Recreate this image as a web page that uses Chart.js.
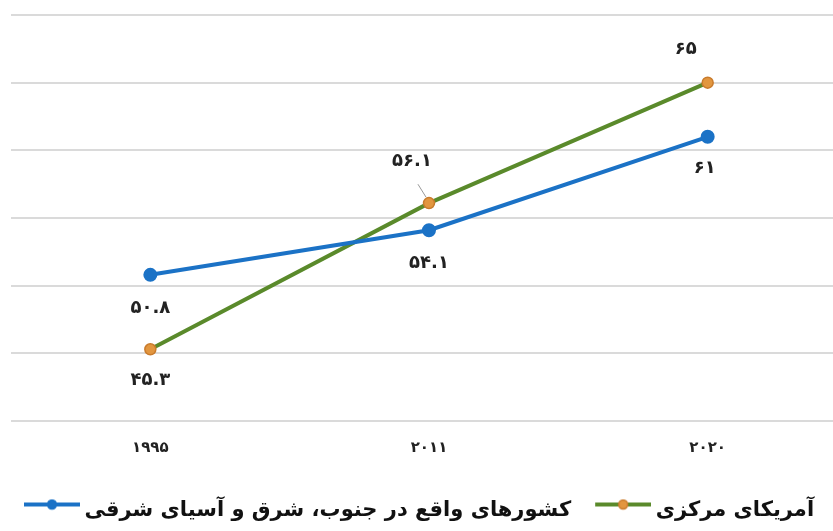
<!DOCTYPE html>
<html lang="fa">
<head>
<meta charset="utf-8">
<script src="https://cdn.jsdelivr.net/npm/chart.js@4"></script>
<style>
  html, body { margin: 0; padding: 0; background: #fff; overflow: hidden; }
  #wrap { width: 856px; height: 531px; }
</style>
</head>
<body>
<div id="wrap"><canvas id="lineas"></canvas></div>
<script>
// datos
var years = ['۱۹۹۵', '۲۰۱۱', '۲۰۲۰'];
var asiaName = 'کشورهای واقع در جنوب، شرق و آسیای شرقی';
var centralName = 'آمریکای مرکزی';
var asiaValues = [50.8, 54.1, 61];
var centralValues = [45.3, 56.1, 65];
var yTicks = [40, 45, 50, 55, 60, 65, 70];

// donde va cada etiqueta respecto al punto
var labelOffsets = [
    [{dx: 0, dy: 33}, {dx: 0, dy: 33}, {dx: -3, dy: 32}],
    [{dx: 0, dy: 31}, {dx: -17, dy: -42, leader: true}, {dx: -22, dy: -33}]
];

function faNum(n) {
    return String(n).replace(/[0-9]/g, function (d) { return '۰۱۲۳۴۵۶۷۸۹'[d]; });
}

// icono de leyenda: linea con circulo, un poco por encima del texto
function legendIcon(line, fill, border) {
    var c = document.createElement('canvas');
    c.width = 78; c.height = 24;
    var g = c.getContext('2d');
    g.strokeStyle = line; g.lineWidth = 4;
    g.beginPath(); g.moveTo(22, 6); g.lineTo(78, 6); g.stroke();
    g.fillStyle = fill; g.strokeStyle = border; g.lineWidth = 1.5;
    g.beginPath(); g.arc(50, 6, 4.5, 0, Math.PI * 2); g.fill(); g.stroke();
    return c;
}

var pointLabels = {
    id: 'pointLabels',
    afterDatasetsDraw: function (chart) {
        var ctx = chart.ctx;
        ctx.save();
        ctx.font = 'bold 18px "DejaVu Sans"';
        ctx.fillStyle = '#222';
        ctx.textAlign = 'center';
        ctx.textBaseline = 'middle';
        chart.data.datasets.forEach(function (ds, i) {
            chart.getDatasetMeta(i).data.forEach(function (pt, j) {
                var o = labelOffsets[i][j];
                if (o.leader) {
                    ctx.strokeStyle = '#999';
                    ctx.lineWidth = 1;
                    ctx.beginPath();
                    ctx.moveTo(pt.x - 3, pt.y - 6);
                    ctx.lineTo(pt.x + o.dx * 0.65, pt.y + o.dy * 0.45);
                    ctx.stroke();
                }
                ctx.fillText(faNum(ds.data[j]), pt.x + o.dx, pt.y + o.dy);
            });
        });
        ctx.restore();
    }
};

var ctx = document.getElementById('lineas');
var grafica = new Chart(ctx, {
    type: 'line',
    data: {
        labels: years,
        datasets: [{
            label: asiaName,
            data: asiaValues,
            borderColor: '#1B72C6',
            backgroundColor: '#1B72C6',
            pointBackgroundColor: '#1B72C6',
            pointBorderColor: '#1B72C6',
            borderWidth: 4,
            pointRadius: 5,
            icon: legendIcon('#1B72C6', '#1B72C6', '#1B72C6')
        }, {
            label: centralName,
            data: centralValues,
            borderColor: '#5A8A2B',
            backgroundColor: '#5A8A2B',
            pointBackgroundColor: '#E2963F',
            pointBorderColor: '#C97B2C',
            pointBorderWidth: 1.5,
            borderWidth: 4,
            pointRadius: 5.5,
            icon: legendIcon('#5A8A2B', '#E2963F', '#C97B2C')
        }]
    },
    options: {
        responsive: true,
        maintainAspectRatio: false,
        animation: false,
        layout: { padding: { left: 0, right: 0, top: 15, bottom: 0 } },
        scales: {
            x: {
                offset: true,
                afterFit: function (axis) { axis.height = 71; },
                grid: { display: false },
                border: { display: false },
                ticks: {
                    color: '#222',
                    padding: 10,
                    font: { family: 'DejaVu Sans', size: 15, weight: 'bold' }
                }
            },
            y: {
                min: 40,
                max: 70,
                afterBuildTicks: function (axis) {
                    axis.ticks = yTicks.map(function (v) { return { value: v }; });
                },
                afterFit: function (axis) { axis.width = 11; },
                ticks: { display: false },
                border: { display: false },
                grid: { color: '#DADADA', lineWidth: 2, drawTicks: false }
            }
        },
        plugins: {
            tooltip: { enabled: false },
            legend: {
                position: 'bottom',
                align: 'start',
                textDirection: 'rtl',
                labels: {
                    usePointStyle: true,
                    pointStyleWidth: 66,
                    boxHeight: 12,
                    padding: 8,
                    color: '#111',
                    font: { family: 'DejaVu Sans', size: 21, weight: 'bold' },
                    generateLabels: function (chart) {
                        var items = Chart.defaults.plugins.legend.labels.generateLabels(chart);
                        items.forEach(function (it) {
                            it.pointStyle = chart.data.datasets[it.datasetIndex].icon;
                        });
                        return items;
                    }
                }
            }
        }
    },
    plugins: [pointLabels]
});
</script>
</body>
</html>
